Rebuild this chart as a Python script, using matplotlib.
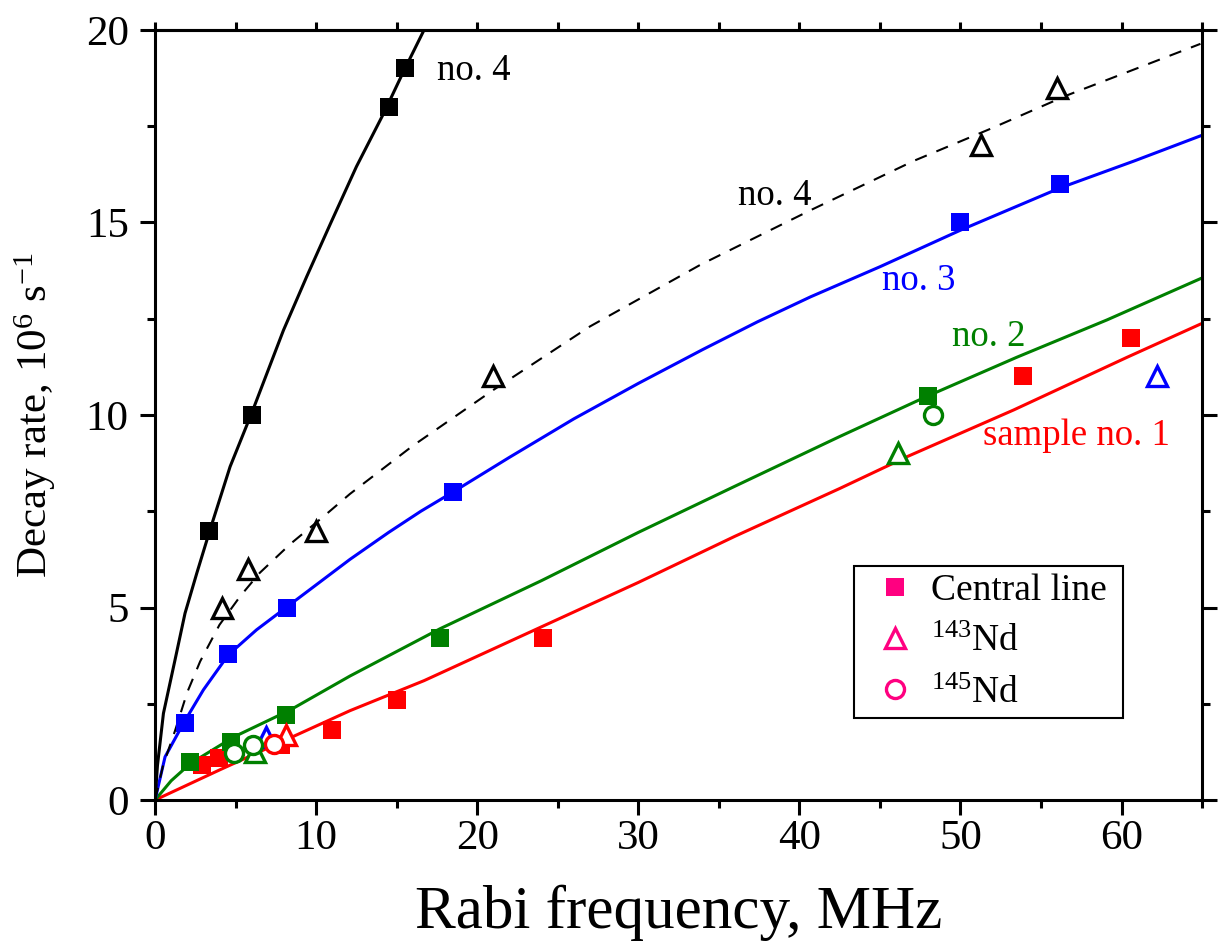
import matplotlib
matplotlib.use("Agg")
import matplotlib.pyplot as plt
from matplotlib.ticker import MultipleLocator
from matplotlib.lines import Line2D

plt.rcParams['font.family'] = ['Liberation Serif', 'DejaVu Serif']
plt.rcParams['mathtext.fontset'] = 'custom'
plt.rcParams['mathtext.rm'] = 'Liberation Serif'
plt.rcParams['mathtext.it'] = 'Liberation Serif:italic'
plt.rcParams['mathtext.bf'] = 'Liberation Serif:bold'

# ---------------- data ----------------
# sample no. 1 (red)
s1_sq_x = [2.9, 4.0, 7.8, 11.0, 15.0, 24.1, 53.9, 60.6]
s1_sq_y = [0.9, 1.1, 1.43, 1.82, 2.6, 4.2, 11.0, 12.0]
s1_tri_x = [8.1]
s1_tri_y = [1.68]
s1_cir_x = [7.4]
s1_cir_y = [1.45]
s1_fit_x = [0, 4.0, 8.0, 12.1, 16.7, 24.0, 30.0, 36.0, 42.5, 46.7, 53.3, 60.35, 65.0]
s1_fit_y = [0, 0.78, 1.54, 2.32, 3.1, 4.5, 5.65, 6.85, 8.09, 8.92, 10.13, 11.5, 12.38]

# sample no. 2 (green)
s2_sq_x = [2.2, 4.7, 8.1, 17.7, 48.0]
s2_sq_y = [1.0, 1.51, 2.22, 4.2, 10.5]
s2_tri_x = [6.2, 46.1]
s2_tri_y = [1.25, 9.0]
s2_cir_x = [4.9, 6.1, 48.3]
s2_cir_y = [1.23, 1.43, 10.0]
s2_fit_x = [0, 1.0, 2.2, 4.9, 8.4, 12.1, 17.7, 24.0, 30.0, 36.0, 42.5, 47.9, 53.5, 59.1, 65.0]
s2_fit_y = [0, 0.5, 0.95, 1.64, 2.34, 3.22, 4.45, 5.7, 6.95, 8.15, 9.44, 10.48, 11.5, 12.47, 13.56]

# sample no. 3 (blue)
s3_sq_x = [1.86, 4.53, 8.2, 18.5, 50.0, 56.2]
s3_sq_y = [2.0, 3.8, 5.0, 8.0, 15.0, 16.0]
s3_tri_x = [6.9, 62.2]
s3_tri_y = [1.64, 11.0]
s3_fit_x = [0, 0.62, 1.76, 3.0, 4.55, 6.3, 8.2, 10.04, 12.1, 14.5, 16.5, 18.5, 22.0, 26.0,
            30.0, 34.0, 37.4, 40.7, 45.0, 50.0, 56.2, 60.8, 64.9]
s3_fit_y = [0, 1.12, 1.99, 2.86, 3.77, 4.42, 5.02, 5.6, 6.25, 6.95, 7.5, 8.0, 8.9, 9.9,
            10.82, 11.7, 12.42, 13.07, 13.85, 14.8, 15.9, 16.6, 17.25]

# sample no. 4 (black): central line (solid fit) and 143Nd (dashed fit)
s4_sq_x = [3.35, 6.0, 14.5, 15.5]
s4_sq_y = [7.0, 10.0, 18.0, 19.0]
s4_fit_x = [0, 0.15, 0.52, 1.24, 1.86, 2.59, 3.4, 4.66, 6.0, 7.97, 9.42, 10.9, 12.5, 14.2, 15.4, 16.7]
s4_fit_y = [0, 0.9, 2.25, 3.64, 4.85, 5.89, 7.0, 8.66, 10.05, 12.2, 13.6, 14.98, 16.45, 17.84, 18.9, 20.0]
s4_tri_x = [4.16, 5.78, 10.0, 21.0, 51.3, 56.0]
s4_tri_y = [5.0, 6.0, 7.0, 11.0, 17.0, 18.5]
s4_dash_x = [0, 0.5, 1.24, 2.0, 2.8, 4.0, 5.3, 6.5, 8.4, 10.45, 12.1, 16.0, 21.0, 27.0,
             33.85, 40.7, 47.1, 51.9, 56.6, 64.9]
s4_dash_y = [0, 0.9, 1.8, 2.8, 3.6, 4.55, 5.3, 5.9, 6.65, 7.36, 7.95, 9.2, 10.65, 12.3,
             13.9, 15.32, 16.6, 17.44, 18.3, 19.64]

legend_labels = ['Central line', '$^{143}$Nd', '$^{145}$Nd']

RED = '#ff0000'
GREEN = '#008000'
BLUE = '#0000ff'
BLACK = '#000000'
PINK = '#ff0080'

fig = plt.figure(figsize=(12.19, 9.49), dpi=100)
ax = fig.add_axes([0.1272, 0.157, 0.8589, 0.8114])

LW = 2.2
SQ = 12.5
TRI = 14
CIR = 13
MEW = 2.4

# fitted curves
ax.plot(s1_fit_x, s1_fit_y, color=RED, lw=LW, zorder=2)
ax.plot(s2_fit_x, s2_fit_y, color=GREEN, lw=LW, zorder=2)
ax.plot(s3_fit_x, s3_fit_y, color=BLUE, lw=LW, zorder=2)
ax.plot(s4_fit_x, s4_fit_y, color=BLACK, lw=LW, zorder=2)
ax.plot(s4_dash_x, s4_dash_y, color=BLACK, lw=1.5, ls=(0, (6, 5)), zorder=2)

# central line squares
for xs, ys, c in [(s1_sq_x, s1_sq_y, RED), (s2_sq_x, s2_sq_y, GREEN),
                  (s3_sq_x, s3_sq_y, BLUE), (s4_sq_x, s4_sq_y, BLACK)]:
    ax.plot(xs, ys, ls='none', marker='s', ms=SQ, color=c, mec=c, mew=0, zorder=3)

# 143Nd triangles
for xs, ys, c in [(s1_tri_x, s1_tri_y, RED), (s2_tri_x, s2_tri_y, GREEN),
                  (s3_tri_x, s3_tri_y, BLUE), (s4_tri_x, s4_tri_y, BLACK)]:
    ax.plot(xs, ys, ls='none', marker='^', ms=TRI, mfc='white', mec=c, mew=MEW, zorder=4)

# 145Nd circles
for xs, ys, c in [(s1_cir_x, s1_cir_y, RED), (s2_cir_x, s2_cir_y, GREEN)]:
    ax.plot(xs, ys, ls='none', marker='o', ms=CIR, mfc='white', mec=c, mew=MEW, zorder=5)

# annotations
TS = 26.5
ax.text(17.5, 18.7, 'no. 4', color=BLACK, fontsize=TS, ha='left', va='baseline')
ax.text(36.2, 15.45, 'no. 4', color=BLACK, fontsize=TS, ha='left', va='baseline')
ax.text(45.1, 13.25, 'no. 3', color=BLUE, fontsize=TS, ha='left', va='baseline')
ax.text(49.5, 11.8, 'no. 2', color=GREEN, fontsize=TS, ha='left', va='baseline')
ax.text(51.4, 9.22, 'sample no. 1', color=RED, fontsize=TS, ha='left', va='baseline')

ax.set_xlim(0, 65)
ax.set_ylim(0, 20)

# ticks
ax.xaxis.set_major_locator(MultipleLocator(10))
ax.xaxis.set_minor_locator(MultipleLocator(5))
ax.yaxis.set_major_locator(MultipleLocator(5))
ax.yaxis.set_minor_locator(MultipleLocator(2.5))
ax.tick_params(which='major', direction='out', length=11, width=2.2, labelsize=31,
               left=True, right=True, bottom=True, top=False)
ax.tick_params(which='minor', direction='out', length=6, width=2.2,
               left=True, right=True, bottom=True, top=False)
ax.tick_params(axis='x', which='major', pad=3)
ax.tick_params(axis='y', which='major', pad=8)

top = ax.secondary_xaxis('top')
top.xaxis.set_major_locator(MultipleLocator(5))
top.tick_params(direction='out', length=6, width=2.2, labeltop=False)
top.spines['top'].set_linewidth(2.2)

for s in ax.spines.values():
    s.set_linewidth(2.2)

ax.set_xlabel('Rabi frequency, MHz', fontsize=44)
ax.xaxis.label.set_va('center')
ax.set_ylabel('Decay rate, 10$^{6}$ s$^{-1}$', fontsize=31)
ax.xaxis.set_label_coords(0.5, -0.147)
ax.yaxis.set_label_coords(-0.093, 0.5)

# legend
handles = [
    Line2D([], [], ls='none', marker='s', ms=SQ, color=PINK, mew=0),
    Line2D([], [], ls='none', marker='^', ms=TRI, mfc='white', mec=PINK, mew=MEW),
    Line2D([], [], ls='none', marker='o', ms=CIR, mfc='white', mec=PINK, mew=MEW),
]
leg = ax.legend(handles, legend_labels, loc='lower left',
                bbox_to_anchor=(0.6676, 0.1065, 0.2569, 0.2), mode='expand',
                fontsize=27, frameon=True, fancybox=False, framealpha=1,
                edgecolor='black', borderpad=0.2, labelspacing=0.45,
                handlelength=1.8, handletextpad=0.05, borderaxespad=0)
leg.get_frame().set_linewidth(1.5)

fig.savefig('out.png', dpi=100)
